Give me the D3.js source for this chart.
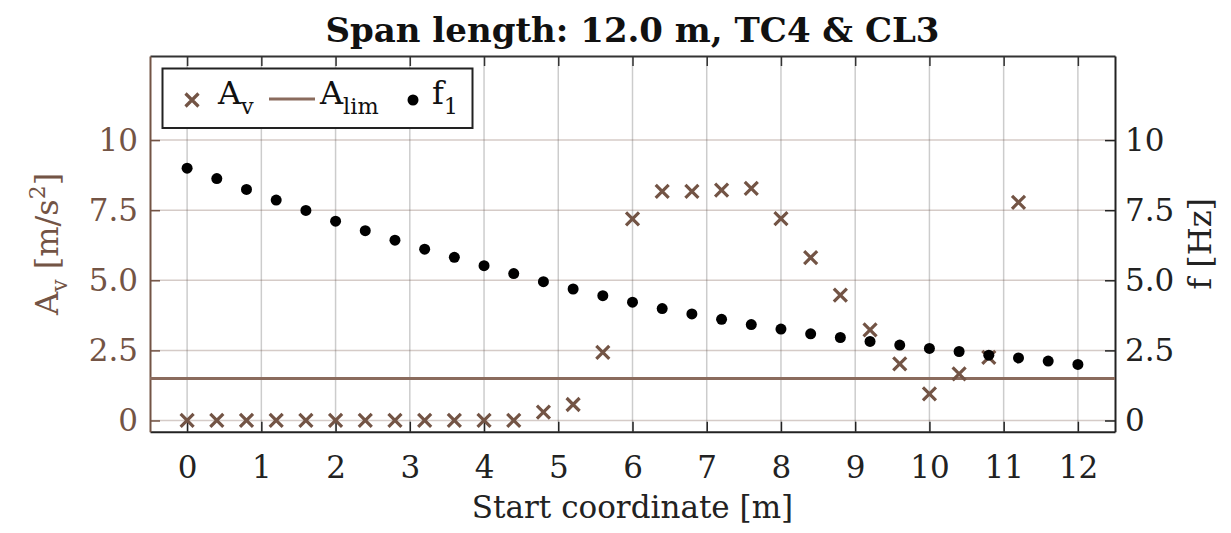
<!DOCTYPE html>
<html>
<head>
<meta charset="utf-8">
<script src="https://cdn.jsdelivr.net/npm/d3@7"></script>
<style>
  body { margin: 0; background: #fff; }
  svg { display: block; font-family: "DejaVu Serif", serif; }
</style>
</head>
<body>
<div id="chart"></div>
<script>
// start coordinate of the load [m]
const startCoord = [0, 0.4, 0.8, 1.2, 1.6, 2.0, 2.4, 2.8, 3.2, 3.6, 4.0, 4.4, 4.8, 5.2, 5.6, 6.0,
                    6.4, 6.8, 7.2, 7.6, 8.0, 8.4, 8.8, 9.2, 9.6, 10.0, 10.4, 10.8, 11.2, 11.6, 12.0];
// vertical acceleration A_v [m/s^2] (no value at the last two positions)
const accelAv = [0, 0, 0, 0, 0, 0, 0, 0, 0, 0, 0, 0, 0.30, 0.57, 2.43, 7.19,
                 8.17, 8.17, 8.22, 8.28, 7.20, 5.81, 4.47, 3.23, 2.02, 0.95, 1.66, 2.25, 7.78, null, null];
// first natural frequency f1 [Hz]
const freqF1 = [9.00, 8.63, 8.24, 7.86, 7.49, 7.11, 6.77, 6.43, 6.11, 5.82, 5.52, 5.24, 4.95, 4.69, 4.45, 4.22,
                3.99, 3.80, 3.61, 3.42, 3.26, 3.09, 2.96, 2.82, 2.69, 2.57, 2.46, 2.33, 2.23, 2.12, 2.00];
const accelLimit = 1.5;

const xTicks = [0, 1, 2, 3, 4, 5, 6, 7, 8, 9, 10, 11, 12];
const yTicks = [0, 2.5, 5, 7.5, 10];
const yTickLabels = ["0", "2.5", "5.0", "7.5", "10"];

const W = 1231, H = 533;
const plotL = 150, plotR = 1115, plotT = 56, plotB = 431.7;
const brown = "#735445";

const svg = d3.select("#chart").append("svg")
    .attr("width", W)
    .attr("height", H);

const x = d3.scaleLinear().domain([-0.5, 12.5]).range([plotL, plotR]);
const yL = d3.scaleLinear().domain([-0.4, 13]).range([plotB, plotT]);
const yR = d3.scaleLinear().domain([-0.4, 13]).range([plotB, plotT]);

// grid
svg.append("g").selectAll("line").data(xTicks).enter().append("line")
    .attr("x1", d => x(d)).attr("x2", d => x(d))
    .attr("y1", plotT).attr("y2", plotB)
    .attr("stroke", "#000").attr("stroke-opacity", 0.2).attr("stroke-width", 1.5);
svg.append("g").selectAll("line").data(yTicks).enter().append("line")
    .attr("x1", plotL).attr("x2", plotR)
    .attr("y1", d => yL(d)).attr("y2", d => yL(d))
    .attr("stroke", brown).attr("stroke-opacity", 0.3).attr("stroke-width", 1.5);

// axes (ticks pointing inwards)
const gx = svg.append("g").attr("transform", `translate(0,${plotB})`)
    .call(d3.axisBottom(x).tickValues(xTicks).tickSize(-10).tickSizeOuter(0).tickPadding(24));
gx.select(".domain").attr("stroke", "#222").attr("stroke-width", 2);
gx.selectAll(".tick line").attr("stroke", "#222").attr("stroke-width", 1.5);
gx.selectAll(".tick text").attr("fill", "#222").style("font-size", "31px").style("font-family", "DejaVu Serif");

const gxTop = svg.append("g").attr("transform", `translate(0,${plotT})`)
    .call(d3.axisTop(x).tickValues(xTicks).tickSize(-10).tickSizeOuter(0).tickFormat(""));
gxTop.select(".domain").attr("stroke", "#333").attr("stroke-width", 2);
gxTop.selectAll(".tick line").attr("stroke", "#333").attr("stroke-width", 1.5);

const gyL = svg.append("g").attr("transform", `translate(${plotL},0)`)
    .call(d3.axisLeft(yL).tickValues(yTicks).tickSize(-10).tickSizeOuter(0).tickPadding(12)
        .tickFormat((d, i) => yTickLabels[i]));
gyL.select(".domain").attr("stroke", brown).attr("stroke-width", 2);
gyL.selectAll(".tick line").attr("stroke", brown).attr("stroke-width", 1.5);
gyL.selectAll(".tick text").attr("fill", brown).style("font-size", "31px").style("font-family", "DejaVu Serif");

const gyR = svg.append("g").attr("transform", `translate(${plotR},0)`)
    .call(d3.axisRight(yR).tickValues(yTicks).tickSize(-10).tickSizeOuter(0).tickPadding(10)
        .tickFormat((d, i) => yTickLabels[i]));
gyR.select(".domain").attr("stroke", "#222").attr("stroke-width", 2);
gyR.selectAll(".tick line").attr("stroke", "#222").attr("stroke-width", 1.5);
gyR.selectAll(".tick text").attr("fill", "#222").style("font-size", "31px").style("font-family", "DejaVu Serif");

// limit line
svg.append("line")
    .attr("x1", plotL).attr("x2", plotR)
    .attr("y1", yL(accelLimit)).attr("y2", yL(accelLimit))
    .attr("stroke", "#8a6b5d").attr("stroke-width", 3);

// markers
const crossPath = "M-6.5,-6.5L6.5,6.5M6.5,-6.5L-6.5,6.5";
const avData = startCoord.map((c, i) => ({ c, v: accelAv[i] })).filter(d => d.v !== null);
svg.append("g").selectAll("path").data(avData).enter().append("path")
    .attr("d", crossPath)
    .attr("transform", d => `translate(${x(d.c)},${yL(d.v)})`)
    .attr("stroke", brown).attr("stroke-width", 3.2).attr("fill", "none");

svg.append("g").selectAll("circle").data(startCoord).enter().append("circle")
    .attr("cx", d => x(d))
    .attr("cy", (d, i) => yR(freqF1[i]))
    .attr("r", 5.5)
    .attr("fill", "#000");

// legend
const lg = svg.append("g");
lg.append("rect").attr("x", 162.5).attr("y", 68.5).attr("width", 310).attr("height", 59.5)
    .attr("fill", "#fff").attr("stroke", "#222").attr("stroke-width", 2);
lg.append("path").attr("d", crossPath).attr("transform", "translate(192,100)")
    .attr("stroke", brown).attr("stroke-width", 3.2).attr("fill", "none");
lg.append("line").attr("x1", 269).attr("x2", 315).attr("y1", 99).attr("y2", 99)
    .attr("stroke", "#8a6b5d").attr("stroke-width", 3);
lg.append("circle").attr("cx", 413).attr("cy", 100).attr("r", 5.5).attr("fill", "#000");

function subText(g, xPos, yPos, main, sub, size) {
    const t = g.append("text").attr("x", xPos).attr("y", yPos)
        .style("font-size", size + "px").attr("fill", "#111");
    t.append("tspan").text(main);
    t.append("tspan").attr("dy", 10).style("font-size", (size * 0.7) + "px").text(sub);
    return t;
}
subText(lg, 218, 104, "A", "v", 32);
subText(lg, 320, 104, "A", "lim", 32);
subText(lg, 432, 104, "f", "1", 32);

// title
svg.append("text")
    .attr("x", (plotL + plotR) / 2).attr("y", 42)
    .attr("text-anchor", "middle")
    .style("font-size", "34px").style("font-weight", "bold")
    .attr("fill", "#111")
    .text("Span length: 12.0 m, TC4 & CL3");

// x label
svg.append("text")
    .attr("x", (plotL + plotR) / 2).attr("y", 518)
    .attr("text-anchor", "middle")
    .style("font-size", "31px").attr("fill", "#222")
    .text("Start coordinate [m]");

// left y label
const yl = svg.append("text")
    .attr("transform", `translate(58,${(plotT + plotB) / 2}) rotate(-90)`)
    .attr("text-anchor", "middle")
    .style("font-size", "32px").attr("fill", brown);
yl.append("tspan").text("A");
yl.append("tspan").attr("dy", 9).style("font-size", "22px").text("v");
yl.append("tspan").attr("dy", -9).text(" [m/s");
yl.append("tspan").attr("dy", -13).style("font-size", "22px").text("2");
yl.append("tspan").attr("dy", 13).text("]");

// right y label
svg.append("text")
    .attr("transform", `translate(1211,${(plotT + plotB) / 2}) rotate(-90)`)
    .attr("text-anchor", "middle")
    .style("font-size", "32px").attr("fill", "#222")
    .text("f [Hz]");
</script>
</body>
</html>
